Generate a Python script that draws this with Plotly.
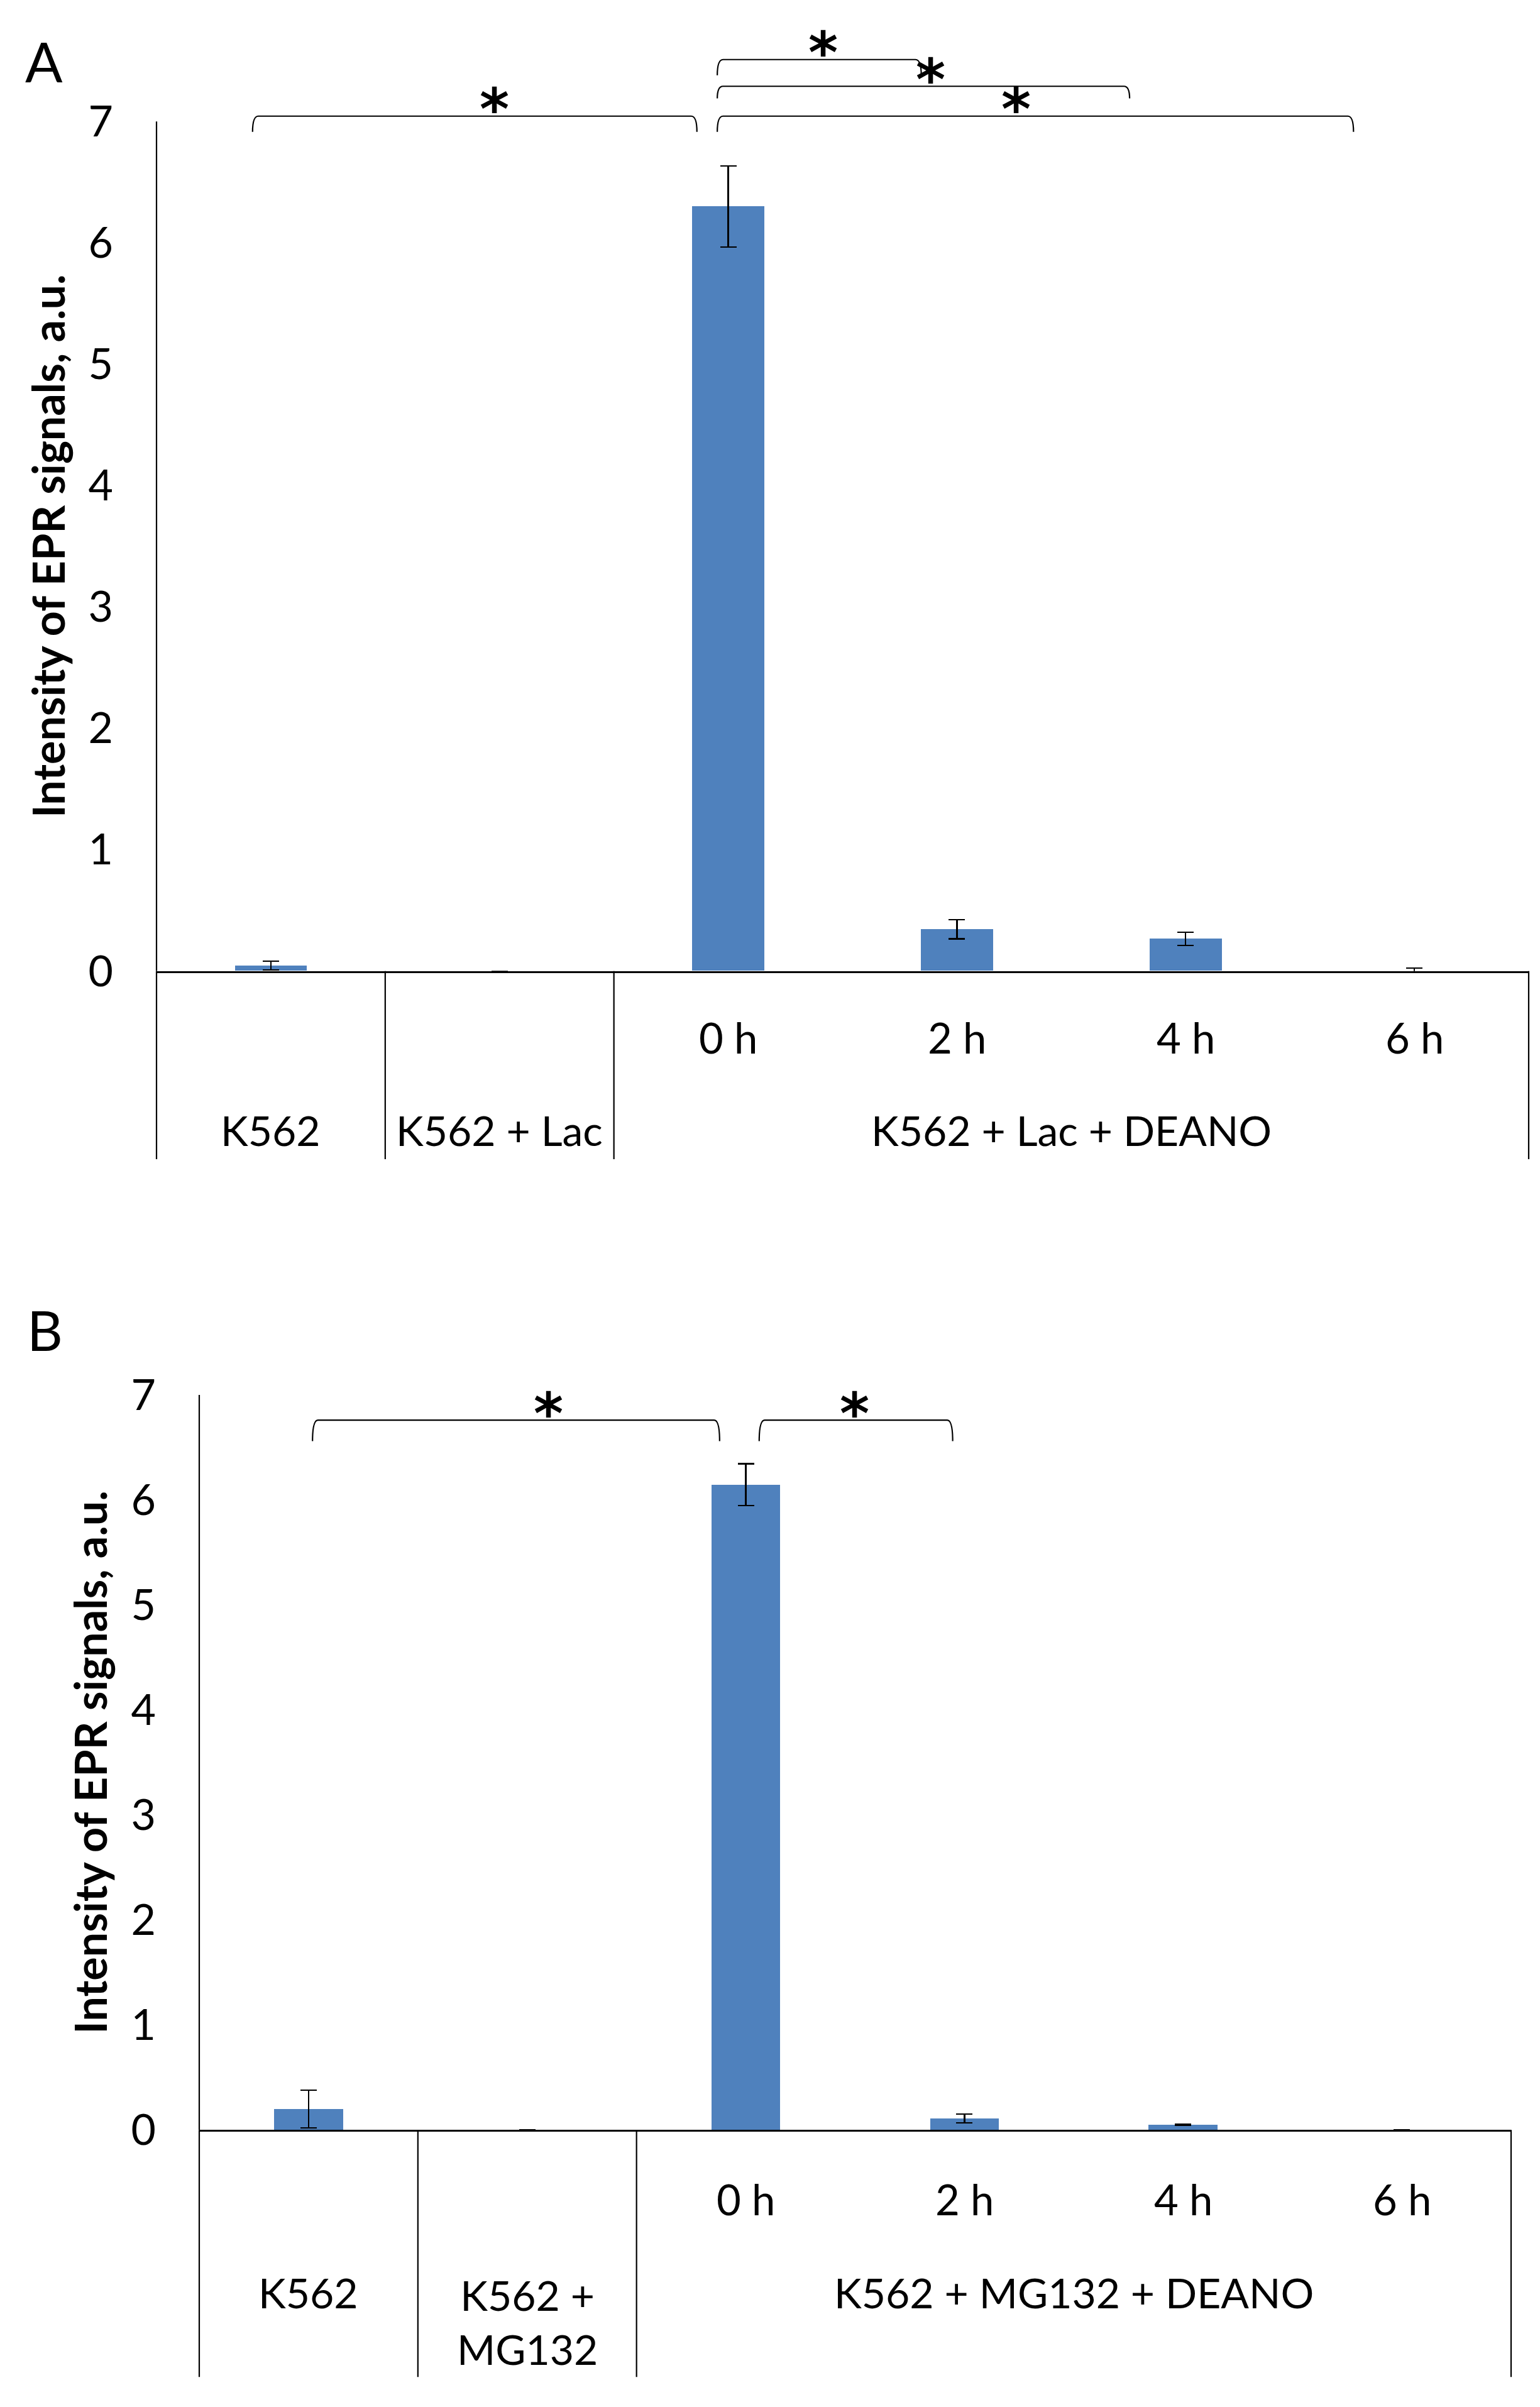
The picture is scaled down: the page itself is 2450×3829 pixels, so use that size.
import plotly.graph_objects as go

W = 2450
FIG_H = 3846
# mapping from reference pixel coordinates to figure pixel coordinates
# (compensates the page offset / vertical scaling of the photographed page)
SX_OFF = 8.0
SY, SY_OFF = 1.0187, 56.2

# ---------------- data ----------------
# Panel A
cats_a = ["K562", "K562 + Lac", "0 h", "2 h", "4 h", "6 h"]
vals_a = [0.045, 0.0, 6.30, 0.345, 0.265, 0.0]
errs_a = [0.036, 0.0, 0.335, 0.08, 0.055, 0.024]
sub_a = ["", "", "0 h", "2 h", "4 h", "6 h"]
groups_a = [("K562", 0, 0), ("K562 + Lac", 1, 1), ("K562 + Lac + DEANO", 2, 5)]

# Panel B
cats_b = ["K562", "K562 + MG132", "0 h", "2 h", "4 h", "6 h"]
vals_b = [0.20, 0.0, 6.145, 0.11, 0.05, 0.0]
errs_b = [0.18, 0.0, 0.20, 0.04, 0.004, 0.0]
sub_b = ["", "", "0 h", "2 h", "4 h", "6 h"]
groups_b = [("K562", 0, 0), ("K562 +<br>MG132", 1, 1), ("K562 + MG132 + DEANO", 2, 5)]

y_ticks = [0, 1, 2, 3, 4, 5, 6, 7]
y_title = "Intensity of EPR signals, a.u."

# significance brackets: (x_left, x_right, y_top, y_leg_bottom, star_x)
brackets_a = [
    (1.952, 2.844, 7.51, 7.38, 2.415),
    (1.952, 3.755, 7.29, 7.19, 2.886),
    (-0.08, 1.863, 7.044, 6.915, 0.976),
    (1.952, 4.734, 7.044, 6.915, 3.258),
]
brackets_b = [
    (0.018, 1.880, 6.76, 6.56, 1.096),
    (2.061, 2.946, 6.76, 6.56, 2.496),
]

# ---------------- layout constants (reference pixels) ----------------
FONT = "Lato"
BAR_COLOR = "#4F81BD"
panels = [
    dict(name="A", cats=cats_a, vals=vals_a, errs=errs_a, sub=sub_a, groups=groups_a,
         brackets=brackets_a, x0=249, x1=2432, zero=1553, unit=193.6, ymax=7.73,
         sub_off=106, grp_off=253, grp2_off=301, div_off=300, title_x=76, letter=(70, 101)),
    dict(name="B", cats=cats_b, vals=vals_b, errs=errs_b, sub=sub_b, groups=groups_b,
         brackets=brackets_b, x0=317, x1=2404, zero=3401.7, unit=167.5, ymax=7.0,
         sub_off=110, grp_off=259, grp2_off=306, div_off=394, title_x=143, letter=(71, 2125)),
]


def fx(px):
    return (px - SX_OFF) / W


def fy_px(px):
    return SY * px - SY_OFF


def py(px):
    return 1 - fy_px(px) / FIG_H


fig = go.Figure()
shapes = []
annotations = []
layout_axes = {}

for i, p in enumerate(panels):
    n = i + 1
    xa = "x" if n == 1 else f"x{n}"
    ya = "y" if n == 1 else f"y{n}"
    xname = "xaxis" if n == 1 else f"xaxis{n}"
    yname = "yaxis" if n == 1 else f"yaxis{n}"
    idx = list(range(len(p["cats"])))
    zero_f = fy_px(p["zero"])
    unit_f = p["unit"] * SY
    top_f = zero_f - p["ymax"] * unit_f
    plot_h = zero_f - top_f

    fig.add_trace(go.Bar(
        x=idx, y=p["vals"], width=0.315, marker=dict(color=BAR_COLOR, line=dict(width=0)),
        error_y=dict(type="data", array=p["errs"], color="black", thickness=2.2, width=13),
        xaxis=xa, yaxis=ya, showlegend=False, hovertext=p["cats"],
    ))

    layout_axes[xname] = dict(
        domain=[fx(p["x0"]), fx(p["x1"])], range=[-0.5, len(idx) - 0.5],
        showgrid=False, zeroline=False, showticklabels=False, ticks="",
        showline=True, linecolor="black", linewidth=3, anchor=ya, fixedrange=True,
    )
    layout_axes[yname] = dict(
        domain=[1 - zero_f / FIG_H, min(1.0, 1 - top_f / FIG_H)], range=[0, p["ymax"]],
        tickvals=y_ticks, showgrid=False, zeroline=False, showline=False, ticks="",
        tickfont=dict(family=FONT, size=68, color="black"), ticklabelstandoff=68,
        anchor=xa, fixedrange=True,
    )

    div_frac = p["div_off"] * SY / plot_h
    # y axis line (0..7)
    shapes.append(dict(type="line", xref=f"{xa} domain", yref=ya, x0=0, x1=0,
                       y0=0, y1=max(y_ticks), line=dict(color="black", width=2.2)))
    # left / right outer dividers below axis
    for xd in (0, 1):
        shapes.append(dict(type="line", xref=f"{xa} domain", yref=f"{ya} domain",
                           x0=xd, x1=xd, y0=0, y1=-div_frac,
                           line=dict(color="black", width=2.2)))
    # interior group dividers
    for g in p["groups"][:-1]:
        shapes.append(dict(type="line", xref=xa, yref=f"{ya} domain",
                           x0=g[2] + 0.5, x1=g[2] + 0.5, y0=0, y1=-div_frac,
                           line=dict(color="black", width=2.2)))

    # sub (time) labels
    for k, lab in zip(idx, p["sub"]):
        if lab:
            annotations.append(dict(text=lab, xref=xa, x=k, yref="paper",
                                    y=py(p["zero"] + p["sub_off"]),
                                    xanchor="center", yanchor="middle", showarrow=False,
                                    font=dict(family=FONT, size=67, color="black")))
    # group labels
    for lab, a, b in p["groups"]:
        off = p["grp2_off"] if "<br>" in lab else p["grp_off"]
        annotations.append(dict(text=lab, xref=xa, x=(a + b) / 2, yref="paper",
                                y=py(p["zero"] + off),
                                xanchor="center", yanchor="middle", showarrow=False,
                                font=dict(family=FONT, size=66, color="black")))
    # axis title
    annotations.append(dict(text=f"<b>{y_title}</b>", xref="paper", x=fx(p["title_x"]),
                            yref=ya, y=3.5, textangle=-90, xanchor="center", yanchor="middle",
                            showarrow=False, font=dict(family=FONT, size=70, color="black")))
    # panel letter
    annotations.append(dict(text=p["name"], xref="paper", x=fx(p["letter"][0]),
                            yref="paper", y=py(p["letter"][1]), xanchor="center",
                            yanchor="middle", showarrow=False,
                            font=dict(family=FONT, size=88, color="black")))
    # significance brackets
    for (xl, xr, yt, yb, sx) in p["brackets"]:
        c = 0.025
        path = (f"M {xl},{yb} Q {xl},{yt} {xl + c},{yt} L {xr - c},{yt} "
                f"Q {xr},{yt} {xr},{yb}")
        shapes.append(dict(type="path", xref=xa, yref=ya, path=path,
                           line=dict(color="black", width=2.2)))
        annotations.append(dict(text="<b>*</b>", xref=xa, x=sx, yref=ya, y=yt,
                                xanchor="center", yanchor="middle", yshift=11,
                                showarrow=False,
                                font=dict(family="DejaVu Sans", size=90, color="black")))

fig.update_layout(
    width=W, height=FIG_H, margin=dict(l=0, r=0, t=0, b=0),
    paper_bgcolor="white", plot_bgcolor="white",
    shapes=shapes, annotations=annotations, bargap=0,
    font=dict(family=FONT, color="black"),
    **layout_axes,
)

fig.write_html("out.html")
